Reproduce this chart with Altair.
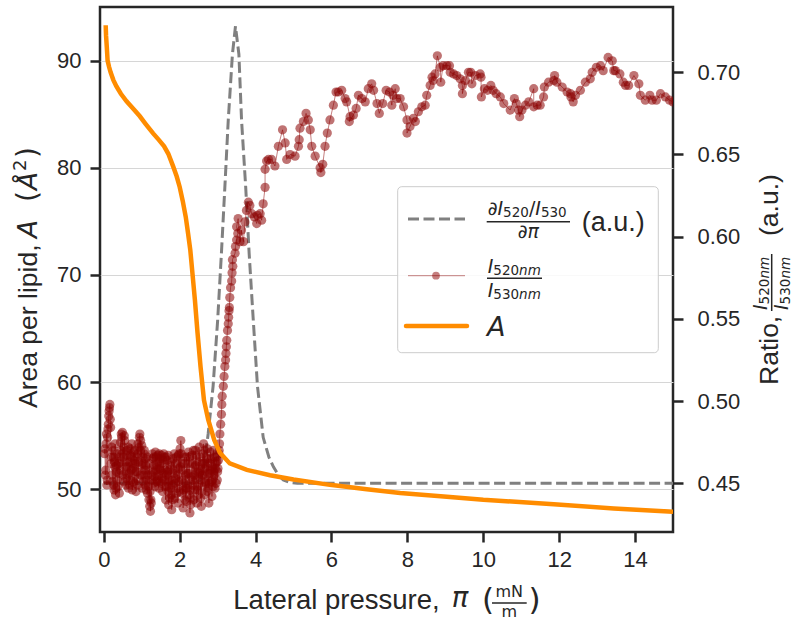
import altair as alt
import pandas as pd

# ------------------------------------------------------------------ data
# Area per lipid A (left axis) vs lateral pressure
area_pi = [0.05, 0.06, 0.08, 0.10, 0.14, 0.18, 0.25, 0.33, 0.45, 0.60,
           0.80, 0.95, 1.10, 1.30, 1.45, 1.59, 1.70, 1.83, 1.92, 2.00,
           2.08, 2.16, 2.22, 2.28, 2.34, 2.40, 2.47, 2.55, 2.64, 2.75,
           2.91, 3.06, 3.32, 3.77, 4.38, 5.00, 5.96, 6.93, 7.81, 9.04,
           10.0, 11.86, 13.44, 15.0]
area_A = [93.3, 92.3, 91.2, 90.0, 89.4, 88.9, 88.2, 87.6, 86.9, 86.2,
          85.4, 84.8, 84.1, 83.2, 82.6, 82.0, 81.3, 80.1, 79.2, 78.2,
          76.9, 75.4, 73.9, 72.3, 70.0, 67.7, 64.6, 61.4, 58.3, 56.5,
          54.6, 53.4, 52.4, 51.8, 51.3, 50.9, 50.4, 50.0, 49.65, 49.3,
          49.0, 48.6, 48.2, 47.9]

# derivative of the ratio (right axis units)
deriv_pi = [0.0, 1.0, 2.0, 2.4, 2.55, 2.65, 2.75, 2.88, 3.00, 3.10, 3.19,
            3.28, 3.39, 3.47, 3.56, 3.63, 3.74, 3.83, 3.94, 4.05, 4.20,
            4.35, 4.47, 4.60, 4.73, 4.90, 5.10, 6.0, 8.0, 10.0, 12.0, 14.0, 15.0]
deriv_val = [0.450, 0.450, 0.450, 0.450, 0.452, 0.462, 0.480, 0.509, 0.549,
             0.590, 0.630, 0.671, 0.711, 0.728, 0.711, 0.671, 0.630, 0.590,
             0.549, 0.509, 0.478, 0.466, 0.460, 0.455, 0.452, 0.4505, 0.450,
             0.450, 0.450, 0.450, 0.450, 0.450, 0.450]

# fluorescence ratio I520/I530 (right axis): noisy low-pressure cluster, pass 1
cluster1_pi = [
    0.02, 0.04, 0.06, 0.08, 0.10, 0.12, 0.14, 0.16, 0.17, 0.19,
    0.21, 0.23, 0.25, 0.27, 0.29, 0.31, 0.33, 0.35, 0.37, 0.39,
    0.41, 0.43, 0.45, 0.47, 0.49, 0.51, 0.53, 0.55, 0.57, 0.59,
    0.61, 0.63, 0.65, 0.67, 0.69, 0.71, 0.73, 0.75, 0.77, 0.79,
    0.81, 0.83, 0.85, 0.87, 0.89, 0.91, 0.93, 0.95, 0.97, 0.99,
    1.01, 1.03, 1.05, 1.07, 1.09, 1.11, 1.13, 1.15, 1.17, 1.19,
    1.21, 1.23, 1.25, 1.27, 1.29, 1.31, 1.33, 1.35, 1.37, 1.39,
    1.41, 1.43, 1.45, 1.47, 1.49, 1.51, 1.53, 1.55, 1.57, 1.59,
    1.61, 1.63, 1.65, 1.67, 1.69, 1.71, 1.73, 1.75, 1.77, 1.79,
    1.81, 1.83, 1.85, 1.87, 1.89, 1.91, 1.93, 1.95, 1.97, 1.99,
    2.01, 2.03, 2.05, 2.07, 2.09, 2.11, 2.13, 2.15, 2.17, 2.19,
    2.21, 2.23, 2.25, 2.27, 2.29, 2.31, 2.33, 2.35, 2.37, 2.39,
    2.41, 2.43, 2.45, 2.47, 2.49, 2.51, 2.53, 2.55, 2.57, 2.59,
    2.61, 2.63, 2.65, 2.67, 2.69, 2.71, 2.73, 2.75, 2.77, 2.79,
    2.81, 2.83, 2.85, 2.87, 2.89, 2.91, 2.93, 2.95, 2.97, 2.99,
    3.01, 3.03, 3.05]
cluster1_val = [
    0.468, 0.455, 0.474, 0.449, 0.478, 0.486, 0.494, 0.498, 0.489, 0.462,
    0.472, 0.451, 0.466, 0.446, 0.460, 0.443, 0.457, 0.468, 0.448, 0.462,
    0.444, 0.458, 0.470, 0.478, 0.481, 0.466, 0.451, 0.476, 0.460, 0.449,
    0.470, 0.455, 0.447, 0.463, 0.471, 0.452, 0.466, 0.446, 0.459, 0.469,
    0.450, 0.462, 0.445, 0.457, 0.468, 0.453, 0.472, 0.480, 0.476, 0.461,
    0.447, 0.466, 0.455, 0.470, 0.449, 0.461, 0.452, 0.444, 0.458, 0.440,
    0.436, 0.433, 0.438, 0.455, 0.465, 0.450, 0.461, 0.448, 0.458, 0.466,
    0.452, 0.463, 0.447, 0.459, 0.465, 0.450, 0.462, 0.445, 0.456, 0.466,
    0.448, 0.440, 0.455, 0.464, 0.445, 0.437, 0.452, 0.461, 0.443, 0.434,
    0.449, 0.465, 0.456, 0.441, 0.453, 0.466, 0.447, 0.438, 0.459, 0.468,
    0.471, 0.476, 0.462, 0.444, 0.435, 0.450, 0.466, 0.455, 0.439, 0.447,
    0.462, 0.469, 0.443, 0.432, 0.437, 0.454, 0.467, 0.449, 0.440, 0.460,
    0.470, 0.452, 0.438, 0.446, 0.463, 0.472, 0.457, 0.441, 0.436, 0.455,
    0.468, 0.474, 0.459, 0.443, 0.450, 0.465, 0.471, 0.447, 0.438, 0.456,
    0.469, 0.451, 0.442, 0.460, 0.470, 0.455, 0.447, 0.462, 0.466, 0.452,
    0.459, 0.468, 0.474]

# noisy low-pressure cluster, pass 2 (readings in between)
cluster2_pi = [
    0.03, 0.05, 0.07, 0.09, 0.11, 0.13, 0.15, 0.18, 0.20,
    0.22, 0.24, 0.26, 0.28, 0.30, 0.32, 0.34, 0.36, 0.38, 0.40,
    0.42, 0.44, 0.46, 0.48, 0.50, 0.52, 0.54, 0.56, 0.58, 0.60,
    0.62, 0.64, 0.66, 0.68, 0.70, 0.72, 0.74, 0.76, 0.78, 0.80,
    0.82, 0.84, 0.86, 0.88, 0.90, 0.92, 0.94, 0.96, 0.98, 1.00,
    1.02, 1.04, 1.06, 1.08, 1.10, 1.12, 1.14, 1.16, 1.18, 1.20,
    1.22, 1.24, 1.26, 1.28, 1.30, 1.32, 1.34, 1.36, 1.38, 1.40,
    1.42, 1.44, 1.46, 1.48, 1.50, 1.52, 1.54, 1.56, 1.58, 1.60,
    1.62, 1.64, 1.66, 1.68, 1.70, 1.72, 1.74, 1.76, 1.78, 1.80,
    1.82, 1.84, 1.86, 1.88, 1.90, 1.92, 1.94, 1.96, 1.98, 2.00,
    2.02, 2.04, 2.06, 2.08, 2.10, 2.12, 2.14, 2.16, 2.18, 2.20,
    2.22, 2.24, 2.26, 2.28, 2.30, 2.32, 2.34, 2.36, 2.38, 2.40,
    2.42, 2.44, 2.46, 2.48, 2.50, 2.52, 2.54, 2.56, 2.58, 2.60,
    2.62, 2.64, 2.66, 2.68, 2.70, 2.72, 2.74, 2.76, 2.78, 2.80,
    2.82, 2.84, 2.86, 2.88, 2.90, 2.92, 2.94, 2.96, 2.98, 3.00,
    3.02, 3.04]
cluster2_val = [
    0.471, 0.458, 0.480, 0.452, 0.483, 0.491, 0.496, 0.484, 0.466,
    0.455, 0.470, 0.449, 0.463, 0.474, 0.447, 0.461, 0.452, 0.466, 0.456,
    0.463, 0.475, 0.480, 0.468, 0.455, 0.472, 0.479, 0.463, 0.453, 0.467,
    0.460, 0.472, 0.456, 0.449, 0.467, 0.458, 0.474, 0.462, 0.451, 0.464,
    0.470, 0.457, 0.466, 0.449, 0.474, 0.463, 0.478, 0.470, 0.455, 0.473,
    0.462, 0.451, 0.468, 0.458, 0.465, 0.446, 0.466, 0.455, 0.448, 0.462,
    0.445, 0.440, 0.452, 0.468, 0.457, 0.466, 0.454, 0.469, 0.451, 0.460,
    0.467, 0.455, 0.468, 0.451, 0.458, 0.467, 0.453, 0.464, 0.468, 0.452,
    0.458, 0.466, 0.448, 0.457, 0.467, 0.458, 0.441, 0.447, 0.463, 0.452,
    0.440, 0.458, 0.468, 0.450, 0.462, 0.444, 0.455, 0.467, 0.451, 0.445,
    0.460, 0.468, 0.452, 0.458, 0.446, 0.462, 0.440, 0.447, 0.466, 0.456,
    0.449, 0.456, 0.466, 0.446, 0.441, 0.462, 0.452, 0.470, 0.455, 0.446,
    0.461, 0.467, 0.448, 0.457, 0.443, 0.456, 0.466, 0.452, 0.462, 0.448,
    0.455, 0.462, 0.470, 0.451, 0.460, 0.445, 0.456, 0.465, 0.450, 0.462,
    0.458, 0.465, 0.452, 0.448, 0.457, 0.466, 0.459, 0.450, 0.463, 0.457,
    0.464, 0.470]

# transition and condensed phase
rise_pi = [
    3.06, 3.08, 3.10, 3.11, 3.12, 3.15, 3.17, 3.19, 3.21, 3.22,
    3.23, 3.24, 3.26, 3.28, 3.29, 3.30, 3.31, 3.32, 3.34, 3.37,
    3.38, 3.40, 3.39, 3.46, 3.47, 3.50, 3.53, 3.50, 3.54, 3.59,
    3.63, 3.68, 3.72, 3.76, 3.81, 3.85, 3.90, 3.97, 4.03, 4.05,
    4.12, 4.16, 4.20, 4.25, 4.25, 4.29, 4.34, 4.42, 4.51, 4.60,
    4.71, 4.78, 4.82, 4.91, 5.04, 5.13, 5.15, 5.17, 5.26, 5.33,
    5.39, 5.44, 5.48, 5.57, 5.70, 5.72, 5.77, 5.83, 5.89, 5.96,
    6.05, 6.12, 6.18, 6.27, 6.36, 6.40, 6.49, 6.47, 6.58, 6.65,
    6.71, 6.80, 6.89, 6.97, 7.06, 7.11, 7.20, 7.26, 7.35, 7.44,
    7.53, 7.59, 7.62, 7.68, 7.72, 7.81, 7.90, 7.99, 7.99, 8.07,
    8.16, 8.21, 8.29, 8.38, 8.47, 8.51, 8.60, 8.65, 8.68, 8.73,
    8.79, 8.87, 8.88, 8.94, 9.04, 9.11, 9.13, 9.22, 9.30, 9.39,
    9.45, 9.45, 9.53, 9.61, 9.67, 9.70, 9.79, 9.92, 9.94, 9.95,
    10.03, 10.11, 10.20, 10.26, 10.34, 10.45, 10.54, 10.71, 10.82, 10.87,
    10.93, 10.96, 11.02, 11.11, 11.20, 11.33, 11.33, 11.42, 11.50, 11.59,
    11.61, 11.72, 11.86, 11.88, 11.94, 12.08, 12.21, 12.30, 12.31, 12.37,
    12.43, 12.56, 12.69, 12.82, 12.87, 12.98, 13.09, 13.16, 13.29, 13.40,
    13.44, 13.48, 13.60, 13.69, 13.75, 13.83, 13.97, 14.10, 14.14, 14.27,
    14.39, 14.45, 14.56, 14.67, 14.80, 14.91, 15.0]
rise_val = [
    0.480, 0.486, 0.492, 0.498, 0.503, 0.509, 0.515, 0.521, 0.525, 0.529,
    0.533, 0.537, 0.543, 0.547, 0.551, 0.555, 0.557, 0.563, 0.569, 0.573,
    0.578, 0.582, 0.586, 0.590, 0.594, 0.598, 0.602, 0.606, 0.611, 0.597,
    0.604, 0.597, 0.609, 0.616, 0.621, 0.619, 0.614, 0.612, 0.608, 0.613,
    0.614, 0.610, 0.620, 0.630, 0.641, 0.646, 0.647, 0.647, 0.643, 0.655,
    0.665, 0.657, 0.647, 0.650, 0.649, 0.655, 0.659, 0.666, 0.670, 0.675,
    0.671, 0.665, 0.655, 0.649, 0.642, 0.639, 0.644, 0.655, 0.663, 0.671,
    0.680, 0.688, 0.688, 0.689, 0.684, 0.682, 0.673, 0.670, 0.674, 0.678,
    0.686, 0.684, 0.682, 0.690, 0.693, 0.689, 0.681, 0.675, 0.681, 0.689,
    0.688, 0.680, 0.686, 0.690, 0.684, 0.684, 0.679, 0.671, 0.663, 0.667,
    0.672, 0.670, 0.676, 0.679, 0.680, 0.686, 0.692, 0.697, 0.695, 0.699,
    0.710, 0.703, 0.694, 0.704, 0.704, 0.704, 0.700, 0.699, 0.698, 0.696,
    0.692, 0.687, 0.695, 0.700, 0.700, 0.693, 0.698, 0.699, 0.697, 0.685,
    0.690, 0.689, 0.692, 0.689, 0.687, 0.685, 0.681, 0.677, 0.684, 0.681,
    0.677, 0.673, 0.677, 0.680, 0.682, 0.690, 0.679, 0.680, 0.680, 0.685,
    0.691, 0.694, 0.695, 0.698, 0.694, 0.691, 0.688, 0.687, 0.685, 0.682,
    0.686, 0.689, 0.694, 0.696, 0.700, 0.703, 0.704, 0.701, 0.709, 0.707,
    0.701, 0.701, 0.699, 0.694, 0.692, 0.692, 0.698, 0.693, 0.686, 0.683,
    0.686, 0.683, 0.683, 0.687, 0.685, 0.683, 0.682]

x_ticks = [0, 2, 4, 6, 8, 10, 12, 14]
left_ticks = [50, 60, 70, 80, 90]
right_ticks = [0.45, 0.50, 0.55, 0.60, 0.65, 0.70]

# ------------------------------------------------------------------ style
INK = "#262626"
ORANGE = "#ff8c00"
DARKRED = "#8b0000"
GRAY = "#808080"
SANS = "Liberation Sans"
MATH = "DejaVu Sans"
W, H = 573, 525
OX, OY = 100, 7          # plot origin inside the 794x621 page

area_df = pd.DataFrame({"pi": area_pi, "A": area_A})
deriv_df = pd.DataFrame({"pi": deriv_pi, "r": deriv_val})
cluster_df = pd.concat([
    pd.DataFrame({"pi": cluster1_pi, "r": cluster1_val}),
    pd.DataFrame({"pi": cluster2_pi, "r": cluster2_val}),
]).sort_values("pi", kind="stable")
ratio_df = pd.concat([cluster_df, pd.DataFrame({"pi": rise_pi, "r": rise_val})],
                     ignore_index=True)
ratio_df["i"] = range(len(ratio_df))
one = pd.DataFrame({"k": [0]})

common_axis = dict(domain=False, labelFont=SANS, labelFontSize=22,
                   labelColor=INK, tickColor=INK, tickWidth=2.5, tickSize=10,
                   title=None)

X = alt.X("pi:Q", scale=alt.Scale(domain=[-0.1, 15.0], nice=False, zero=False),
          axis=alt.Axis(values=x_ticks, grid=False, labelPadding=7,
                        format="d", labelFlush=False, **common_axis))
YA = alt.Y("A:Q", scale=alt.Scale(domain=[46.0, 95.0], nice=False, zero=False),
           axis=alt.Axis(orient="left", values=left_ticks, grid=True,
                         gridColor="#d6d6d6", gridWidth=1, labelPadding=9,
                         format="d", **common_axis))
YR = alt.Y("r:Q", scale=alt.Scale(domain=[0.4204, 0.7397], nice=False, zero=False),
           axis=alt.Axis(orient="right", values=right_ticks, grid=False,
                         labelPadding=14, format=".2f", **common_axis))

deriv = alt.Chart(deriv_df).mark_line(
    color=GRAY, strokeWidth=3, strokeDash=[11, 4.5], clip=True
).encode(x=X, y=YR)
ratio_line = alt.Chart(ratio_df).mark_line(
    color=DARKRED, strokeWidth=1, opacity=0.5, clip=True
).encode(x=X, y=YR, order=alt.Order("i:Q"))
ratio_pts = alt.Chart(ratio_df).mark_circle(
    color=DARKRED, size=85, opacity=0.55, clip=True
).encode(x=X, y=YR)
right_group = alt.layer(deriv, ratio_line, ratio_pts)

area = alt.Chart(area_df).mark_line(
    color=ORANGE, strokeWidth=4.5, clip=True
).encode(x=X, y=YA)


# ------------------------------------------------------------------ helpers
def txt(s, x, y, size, font=SANS, style="normal", angle=0, align="left",
        baseline="alphabetic"):
    return alt.Chart(one).mark_text(
        text=s, font=font, fontSize=size, fontStyle=style, angle=angle,
        align=align, baseline=baseline, color=INK
    ).encode(x=alt.value(x - OX), y=alt.value(y - OY))


def hrule(x1, x2, y, color=INK, width=1.5, dash=None, opacity=1.0, cap="butt"):
    kw = dict(color=color, strokeWidth=width, opacity=opacity, strokeCap=cap)
    if dash:
        kw["strokeDash"] = dash
    return alt.Chart(one).mark_rule(**kw).encode(
        x=alt.value(x1 - OX), x2=alt.value(x2 - OX), y=alt.value(y - OY))


def vrule(x, y1, y2, color=INK, width=1.5):
    return alt.Chart(one).mark_rule(color=color, strokeWidth=width).encode(
        x=alt.value(x - OX), y=alt.value(y1 - OY), y2=alt.value(y2 - OY))


# ------------------------------------------------------------------ legend
legend = [
    alt.Chart(one).mark_rect(fill="white", fillOpacity=0.85, stroke="#cccccc",
                             strokeWidth=1, cornerRadius=4).encode(
        x=alt.value(397.7 - OX), x2=alt.value(658.3 - OX),
        y=alt.value(186.7 - OY), y2=alt.value(352.7 - OY)),
    # entry 1: derivative
    hrule(408, 465, 219, color=GRAY, width=3, dash=[11, 4.5]),
    txt("∂", 487.7, 215, 19, font=MATH, style="italic"),
    txt("I", 497.5, 215, 19, font=MATH, style="italic"),
    txt("520", 503.1, 217, 13.5, font=MATH),
    txt("/", 528.9, 215, 19, font=MATH),
    txt("I", 535.3, 215, 19, font=MATH, style="italic"),
    txt("530", 540.9, 217, 13.5, font=MATH),
    hrule(486.7, 570, 221.7),
    txt("∂π", 528.3, 237.5, 19, font=MATH, style="italic", align="center"),
    txt("(a.u.)", 581.7, 231, 27),
    # entry 2: ratio
    hrule(408, 465, 275.7, color=DARKRED, width=1, opacity=0.5),
    alt.Chart(one).mark_circle(color=DARKRED, size=60, opacity=0.5).encode(
        x=alt.value(436 - OX), y=alt.value(275.7 - OY)),
    txt("I", 487.7, 272.7, 19, font=MATH, style="italic"),
    txt("520", 493.3, 274.5, 13.5, font=MATH),
    txt("nm", 519.1, 274.5, 13.5, font=MATH, style="italic"),
    hrule(487, 542, 278.3),
    txt("I", 487.7, 297.3, 19, font=MATH, style="italic"),
    txt("530", 493.3, 299.3, 13.5, font=MATH),
    txt("nm", 519.1, 299.3, 13.5, font=MATH, style="italic"),
    # entry 3: area
    hrule(406, 467, 326, color=ORANGE, width=4.5, cap="round"),
    txt("A", 487, 336, 27, font=MATH, style="italic"),
]

# ------------------------------------------------------------------ axis titles
titles = [
    # x title
    txt("Lateral pressure, ", 233.3, 609, 27.5),
    txt("π", 451.7, 607, 27.5, font=MATH, style="italic"),
    txt("(", 482, 610, 31, font=MATH),
    txt("mN", 509.2, 596.5, 16, font=MATH, align="center"),
    hrule(492, 526.7, 603),
    txt("m", 509.2, 616.5, 16, font=MATH, align="center"),
    txt(")", 528.5, 610, 31, font=MATH),
    # left title (rotated)
    txt("Area per lipid, ", 37, 408, 26.5, angle=270),
    txt("A", 37, 238, 26.5, font=MATH, style="italic", angle=270),
    txt("(", 37, 202, 28, font=MATH, angle=270),
    txt("Å", 37, 190, 26.5, font=MATH, style="italic", angle=270),
    txt("2", 26, 171, 18, font=MATH, angle=270),
    txt(")", 37, 158, 28, font=MATH, angle=270),
    # right title (rotated)
    txt("Ratio,", 778, 385, 26.5, angle=270),
    txt("I", 767, 310, 19, font=MATH, style="italic", angle=270),
    txt("520", 769, 304.4, 13.5, font=MATH, angle=270),
    txt("nm", 769, 278.6, 13.5, font=MATH, style="italic", angle=270),
    vrule(771.7, 311, 254),
    txt("I", 788, 310, 19, font=MATH, style="italic", angle=270),
    txt("530", 790, 304.4, 13.5, font=MATH, angle=270),
    txt("nm", 790, 278.6, 13.5, font=MATH, style="italic", angle=270),
    txt("(a.u.)", 778, 236, 26.5, angle=270),
]

chart = alt.layer(right_group, area, *legend, *titles).resolve_scale(
    y="independent"
).properties(
    width=W, height=H,
    padding={"left": OX, "top": OY, "right": 794 - OX - W, "bottom": 621 - OY - H},
    autosize=alt.AutoSizeParams(type="none"),
    background="white",
).configure_view(stroke=INK, strokeWidth=2.5)

chart.save("out.html", embed_options={"renderer": "svg", "actions": False})
